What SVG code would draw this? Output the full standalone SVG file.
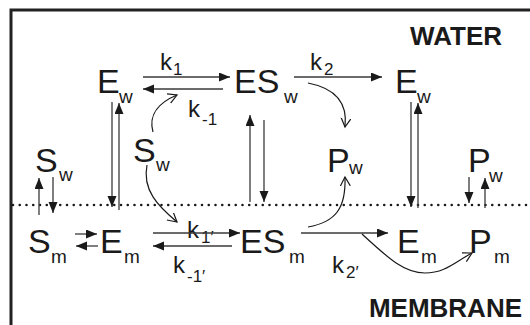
<svg xmlns="http://www.w3.org/2000/svg" width="530" height="325" viewBox="0 0 530 325">
  <defs>
    <marker id="head" markerUnits="userSpaceOnUse" markerWidth="12" markerHeight="10" refX="11" refY="4.5" orient="auto">
      <path d="M0,0 L11,4.5 L0,9 z" fill="#1a1a1a"/>
    </marker>
    <marker id="open" markerUnits="userSpaceOnUse" markerWidth="12" markerHeight="12" refX="9" refY="5" orient="auto">
      <path d="M0,0 L9,5 L0,10" fill="none" stroke="#1a1a1a" stroke-width="1.2"/>
    </marker>
    <style>
      .t { font-family: "Liberation Sans", Arial, sans-serif; fill: #1a1a1a; }
      .big { font-size: 34px; }
      .sub { font-size: 19px; }
      .k { font-size: 24px; }
      .ks { font-size: 17px; }
      .zone { font-size: 26px; font-weight: bold; }
      .a { stroke: #3a3a3a; stroke-width: 1.3; fill: none; marker-end: url(#head); }
      .c { stroke: #1a1a1a; stroke-width: 1.2; fill: none; marker-end: url(#open); }
    </style>
  </defs>

  <rect width="530" height="325" fill="#ffffff"/>

  <!-- frame (open to the right and bottom) -->
  <path d="M11,327 V10 H532" fill="none" stroke="#222" stroke-width="3"/>

  <!-- water / membrane interface -->
  <line x1="13" y1="205" x2="530" y2="205" stroke="#1a1a1a" stroke-width="2.6" stroke-linecap="round" stroke-dasharray="0 6.75"/>

  <!-- region labels -->
  <text class="t zone" x="502" y="45" text-anchor="end">WATER</text>
  <text class="t zone" x="522" y="317" text-anchor="end">MEMBRANE</text>

  <!-- species in water -->
  <g id="Ew1"><text class="t big" x="97" y="93">E</text><text class="t sub" x="119" y="103">w</text></g>
  <g id="ESw"><text class="t big" x="234" y="93">ES</text><text class="t sub" x="284" y="103">w</text></g>
  <g id="Ew2"><text class="t big" x="395" y="93">E</text><text class="t sub" x="417" y="103">w</text></g>
  <g id="Sw1"><text class="t big" x="35" y="172">S</text><text class="t sub" x="59" y="181">w</text></g>
  <g id="Sw2"><text class="t big" x="133" y="162">S</text><text class="t sub" x="156" y="171">w</text></g>
  <g id="Pw1"><text class="t big" x="327" y="172">P</text><text class="t sub" x="349" y="174">w</text></g>
  <g id="Pw2"><text class="t big" x="468" y="172">P</text><text class="t sub" x="489" y="182">w</text></g>

  <!-- species in membrane -->
  <g id="Sm"><text class="t big" x="28" y="253">S</text><text class="t sub" x="51" y="263">m</text></g>
  <g id="Em1"><text class="t big" x="100" y="253">E</text><text class="t sub" x="124" y="263">m</text></g>
  <g id="ESm"><text class="t big" x="240" y="253">ES</text><text class="t sub" x="289" y="263">m</text></g>
  <g id="Em2"><text class="t big" x="397" y="253">E</text><text class="t sub" x="421" y="263">m</text></g>
  <g id="Pm"><text class="t big" x="469" y="253">P</text><text class="t sub" x="494" y="263">m</text></g>

  <!-- rate constants -->
  <g id="rates">
    <text class="t k" x="160" y="70">k<tspan class="ks" x="173" y="75">1</tspan></text>
    <text class="t k" x="188" y="117">k<tspan class="ks" x="202" y="125">-1</tspan></text>
    <text class="t k" x="310" y="70">k<tspan class="ks" x="324" y="75">2</tspan></text>
    <text class="t k" x="187" y="238">k<tspan class="ks" x="201" y="243">1′</tspan></text>
    <text class="t k" x="173" y="273">k<tspan class="ks" x="187" y="282">-1′</tspan></text>
    <text class="t k" x="332" y="273">k<tspan class="ks" x="346" y="278">2′</tspan></text>
  </g>

  <g id="connectors">
    <!-- water reactions -->
    <line class="a" x1="143" y1="77" x2="230" y2="77"/>
    <line class="a" x1="223" y1="89" x2="143" y2="89"/>
    <line class="a" x1="294" y1="77" x2="382" y2="77"/>
    <path class="c" d="M153,132 C148,114 160,102 177,95"/>
    <path class="c" d="M308,83 C334,88 348,102 345,127"/>

    <!-- partitioning across the interface -->
    <line class="a" x1="112" y1="102" x2="112" y2="207"/>
    <line class="a" x1="119" y1="210" x2="119" y2="103"/>
    <line class="a" x1="250" y1="202" x2="250" y2="115"/>
    <line class="a" x1="264" y1="120" x2="264" y2="202"/>
    <line class="a" x1="411" y1="102" x2="411" y2="207"/>
    <line class="a" x1="418" y1="208" x2="418" y2="103"/>
    <line class="a" x1="39" y1="215" x2="39" y2="178"/>
    <line class="a" x1="53" y1="177" x2="53" y2="213"/>
    <line class="a" x1="469" y1="177" x2="469" y2="203"/>
    <line class="a" x1="485" y1="208" x2="485" y2="178"/>

    <!-- membrane reactions -->
    <line class="a" x1="75" y1="234" x2="97" y2="234"/>
    <line class="a" x1="98" y1="246" x2="76" y2="246"/>
    <line class="a" x1="153" y1="233" x2="240" y2="233"/>
    <line class="a" x1="232" y1="246" x2="153" y2="246"/>
    <line class="a" x1="301" y1="233" x2="388" y2="233"/>
    <path class="c" d="M147,165 C142,190 158,206 177,222"/>
    <path class="c" d="M308,227 C336,222 346,208 345,177"/>
    <path class="c" d="M362,234 C390,260 405,273 425,273 C445,273 455,262 472,253"/>
  </g>
</svg>
